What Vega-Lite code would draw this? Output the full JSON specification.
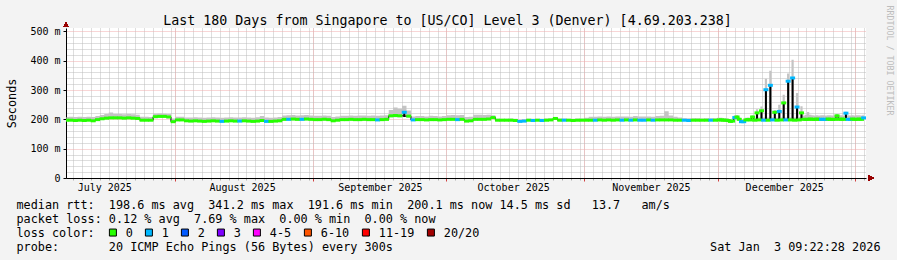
{
"$schema":"https://vega.github.io/schema/vega-lite/v6.json",
"width":800,"height":150,
"autosize":{"type":"none"},
"padding":{"left":66,"top":28,"right":31,"bottom":82},
"background":"#f3f3f3",
"config":{"view":{"fill":"#ffffff","stroke":null},
 "axis":{"labelFont":"DejaVu Sans Mono","titleFont":"DejaVu Sans Mono","labelColor":"#000000","titleColor":"#000000","titleFontWeight":"normal","domainColor":"#000000"}},
"data":{"values":[
{"t":"2025-07-07T12:00Z","m":197,"lo":194,"hi":208,"s":"0"},
{"t":"2025-07-08T12:00Z","m":197,"lo":194,"hi":209,"s":"0"},
{"t":"2025-07-09T12:00Z","m":196,"lo":193,"hi":208,"s":"0"},
{"t":"2025-07-10T12:00Z","m":197,"lo":194,"hi":209,"s":"0"},
{"t":"2025-07-11T12:00Z","m":196,"lo":193,"hi":208,"s":"0"},
{"t":"2025-07-12T12:00Z","m":197,"lo":194,"hi":209,"s":"0"},
{"t":"2025-07-13T12:00Z","m":195,"lo":193,"hi":208,"s":"0"},
{"t":"2025-07-14T12:00Z","m":199,"lo":195,"hi":211,"s":"0"},
{"t":"2025-07-15T12:00Z","m":202,"lo":198,"hi":215,"s":"0"},
{"t":"2025-07-16T12:00Z","m":204,"lo":200,"hi":218,"s":"0"},
{"t":"2025-07-17T12:00Z","m":205,"lo":201,"hi":223,"s":"0"},
{"t":"2025-07-18T12:00Z","m":205,"lo":201,"hi":218,"s":"0"},
{"t":"2025-07-19T12:00Z","m":205,"lo":201,"hi":218,"s":"0"},
{"t":"2025-07-20T12:00Z","m":204,"lo":200,"hi":217,"s":"0"},
{"t":"2025-07-21T12:00Z","m":205,"lo":201,"hi":218,"s":"0"},
{"t":"2025-07-22T12:00Z","m":204,"lo":200,"hi":217,"s":"0"},
{"t":"2025-07-23T12:00Z","m":203,"lo":199,"hi":216,"s":"0"},
{"t":"2025-07-24T12:00Z","m":197,"lo":194,"hi":209,"s":"0"},
{"t":"2025-07-25T12:00Z","m":197,"lo":194,"hi":209,"s":"0"},
{"t":"2025-07-26T12:00Z","m":197,"lo":194,"hi":208,"s":"0"},
{"t":"2025-07-27T12:00Z","m":209,"lo":205,"hi":219,"s":"0"},
{"t":"2025-07-28T12:00Z","m":210,"lo":206,"hi":220,"s":"0"},
{"t":"2025-07-29T12:00Z","m":210,"lo":206,"hi":219,"s":"0"},
{"t":"2025-07-30T12:00Z","m":208,"lo":204,"hi":218,"s":"0"},
{"t":"2025-07-31T12:00Z","m":192,"lo":190,"hi":203,"s":"0"},
{"t":"2025-08-01T12:00Z","m":198,"lo":195,"hi":209,"s":"0"},
{"t":"2025-08-02T12:00Z","m":198,"lo":195,"hi":209,"s":"0"},
{"t":"2025-08-03T12:00Z","m":195,"lo":192,"hi":206,"s":"0"},
{"t":"2025-08-04T12:00Z","m":194,"lo":192,"hi":206,"s":"0"},
{"t":"2025-08-05T12:00Z","m":195,"lo":192,"hi":207,"s":"0"},
{"t":"2025-08-06T12:00Z","m":194,"lo":192,"hi":206,"s":"0"},
{"t":"2025-08-07T12:00Z","m":193,"lo":191,"hi":205,"s":"0"},
{"t":"2025-08-08T12:00Z","m":194,"lo":192,"hi":206,"s":"0"},
{"t":"2025-08-09T12:00Z","m":195,"lo":192,"hi":207,"s":"0"},
{"t":"2025-08-10T12:00Z","m":194,"lo":192,"hi":206,"s":"0"},
{"t":"2025-08-11T12:00Z","m":193,"lo":191,"hi":205,"s":"1"},
{"t":"2025-08-12T12:00Z","m":194,"lo":192,"hi":206,"s":"0"},
{"t":"2025-08-13T12:00Z","m":195,"lo":192,"hi":207,"s":"0"},
{"t":"2025-08-14T12:00Z","m":194,"lo":192,"hi":206,"s":"0"},
{"t":"2025-08-15T12:00Z","m":194,"lo":191,"hi":206,"s":"1"},
{"t":"2025-08-16T12:00Z","m":195,"lo":192,"hi":207,"s":"0"},
{"t":"2025-08-17T12:00Z","m":194,"lo":192,"hi":206,"s":"0"},
{"t":"2025-08-18T12:00Z","m":193,"lo":191,"hi":205,"s":"0"},
{"t":"2025-08-19T12:00Z","m":194,"lo":192,"hi":207,"s":"0"},
{"t":"2025-08-20T12:00Z","m":196,"lo":193,"hi":211,"s":"0"},
{"t":"2025-08-21T12:00Z","m":193,"lo":191,"hi":206,"s":"1"},
{"t":"2025-08-22T12:00Z","m":193,"lo":191,"hi":205,"s":"0"},
{"t":"2025-08-23T12:00Z","m":194,"lo":192,"hi":206,"s":"0"},
{"t":"2025-08-24T12:00Z","m":195,"lo":192,"hi":208,"s":"0"},
{"t":"2025-08-25T12:00Z","m":200,"lo":196,"hi":213,"s":"0"},
{"t":"2025-08-26T12:00Z","m":200,"lo":196,"hi":214,"s":"1"},
{"t":"2025-08-27T12:00Z","m":201,"lo":197,"hi":215,"s":"0"},
{"t":"2025-08-28T12:00Z","m":200,"lo":196,"hi":213,"s":"0"},
{"t":"2025-08-29T12:00Z","m":200,"lo":196,"hi":214,"s":"1"},
{"t":"2025-08-30T12:00Z","m":201,"lo":197,"hi":215,"s":"0"},
{"t":"2025-08-31T12:00Z","m":200,"lo":196,"hi":213,"s":"0"},
{"t":"2025-09-01T12:00Z","m":199,"lo":196,"hi":212,"s":"0"},
{"t":"2025-09-02T12:00Z","m":199,"lo":196,"hi":212,"s":"0"},
{"t":"2025-09-03T12:00Z","m":200,"lo":196,"hi":213,"s":"0"},
{"t":"2025-09-04T12:00Z","m":199,"lo":196,"hi":212,"s":"0"},
{"t":"2025-09-05T12:00Z","m":195,"lo":192,"hi":208,"s":"0"},
{"t":"2025-09-06T12:00Z","m":197,"lo":194,"hi":210,"s":"0"},
{"t":"2025-09-07T12:00Z","m":199,"lo":196,"hi":212,"s":"0"},
{"t":"2025-09-08T12:00Z","m":199,"lo":196,"hi":212,"s":"0"},
{"t":"2025-09-09T12:00Z","m":200,"lo":196,"hi":213,"s":"0"},
{"t":"2025-09-10T12:00Z","m":199,"lo":196,"hi":212,"s":"0"},
{"t":"2025-09-11T12:00Z","m":199,"lo":196,"hi":213,"s":"0"},
{"t":"2025-09-12T12:00Z","m":200,"lo":196,"hi":213,"s":"0"},
{"t":"2025-09-13T12:00Z","m":199,"lo":196,"hi":212,"s":"0"},
{"t":"2025-09-14T12:00Z","m":199,"lo":196,"hi":213,"s":"0"},
{"t":"2025-09-15T12:00Z","m":198,"lo":195,"hi":212,"s":"1"},
{"t":"2025-09-16T12:00Z","m":199,"lo":196,"hi":213,"s":"0"},
{"t":"2025-09-17T12:00Z","m":200,"lo":196,"hi":214,"s":"0"},
{"t":"2025-09-18T12:00Z","m":212,"lo":207,"hi":232,"s":"0"},
{"t":"2025-09-19T12:00Z","m":213,"lo":207,"hi":240,"s":"0"},
{"t":"2025-09-20T12:00Z","m":212,"lo":207,"hi":236,"s":"0"},
{"t":"2025-09-21T12:00Z","m":224,"lo":208,"hi":246,"s":"1"},
{"t":"2025-09-22T12:00Z","m":211,"lo":206,"hi":230,"s":"0"},
{"t":"2025-09-23T12:00Z","m":198,"lo":195,"hi":210,"s":"1"},
{"t":"2025-09-24T12:00Z","m":199,"lo":196,"hi":211,"s":"0"},
{"t":"2025-09-25T12:00Z","m":199,"lo":196,"hi":211,"s":"0"},
{"t":"2025-09-26T12:00Z","m":198,"lo":195,"hi":210,"s":"0"},
{"t":"2025-09-27T12:00Z","m":199,"lo":196,"hi":212,"s":"0"},
{"t":"2025-09-28T12:00Z","m":199,"lo":196,"hi":211,"s":"0"},
{"t":"2025-09-29T12:00Z","m":198,"lo":195,"hi":210,"s":"0"},
{"t":"2025-09-30T12:00Z","m":199,"lo":196,"hi":211,"s":"0"},
{"t":"2025-10-01T12:00Z","m":200,"lo":197,"hi":214,"s":"0"},
{"t":"2025-10-02T12:00Z","m":200,"lo":197,"hi":215,"s":"0"},
{"t":"2025-10-03T12:00Z","m":199,"lo":196,"hi":214,"s":"1"},
{"t":"2025-10-04T12:00Z","m":200,"lo":197,"hi":215,"s":"0"},
{"t":"2025-10-05T12:00Z","m":194,"lo":192,"hi":208,"s":"0"},
{"t":"2025-10-06T12:00Z","m":195,"lo":192,"hi":209,"s":"0"},
{"t":"2025-10-07T12:00Z","m":200,"lo":197,"hi":216,"s":"0"},
{"t":"2025-10-08T12:00Z","m":200,"lo":197,"hi":216,"s":"0"},
{"t":"2025-10-09T12:00Z","m":200,"lo":197,"hi":215,"s":"0"},
{"t":"2025-10-10T12:00Z","m":201,"lo":198,"hi":216,"s":"0"},
{"t":"2025-10-11T12:00Z","m":206,"lo":201,"hi":214,"s":"0"},
{"t":"2025-10-12T12:00Z","m":197,"lo":195,"hi":202,"s":"0"},
{"t":"2025-10-13T12:00Z","m":197,"lo":195,"hi":202,"s":"0"},
{"t":"2025-10-14T12:00Z","m":197,"lo":195,"hi":202,"s":"0"},
{"t":"2025-10-15T12:00Z","m":197,"lo":195,"hi":203,"s":"0"},
{"t":"2025-10-16T12:00Z","m":196,"lo":194,"hi":202,"s":"0"},
{"t":"2025-10-17T12:00Z","m":193,"lo":191,"hi":199,"s":"1"},
{"t":"2025-10-18T12:00Z","m":194,"lo":192,"hi":200,"s":"1"},
{"t":"2025-10-19T12:00Z","m":197,"lo":195,"hi":202,"s":"0"},
{"t":"2025-10-20T12:00Z","m":196,"lo":194,"hi":202,"s":"1"},
{"t":"2025-10-21T12:00Z","m":197,"lo":195,"hi":202,"s":"0"},
{"t":"2025-10-22T12:00Z","m":196,"lo":194,"hi":202,"s":"1"},
{"t":"2025-10-23T12:00Z","m":197,"lo":195,"hi":203,"s":"0"},
{"t":"2025-10-24T12:00Z","m":198,"lo":195,"hi":203,"s":"0"},
{"t":"2025-10-25T12:00Z","m":203,"lo":199,"hi":208,"s":"0"},
{"t":"2025-10-26T12:00Z","m":197,"lo":195,"hi":203,"s":"0"},
{"t":"2025-10-27T12:00Z","m":197,"lo":195,"hi":203,"s":"1"},
{"t":"2025-10-28T12:00Z","m":197,"lo":195,"hi":202,"s":"0"},
{"t":"2025-10-29T12:00Z","m":196,"lo":194,"hi":202,"s":"0"},
{"t":"2025-10-30T12:00Z","m":197,"lo":195,"hi":203,"s":"0"},
{"t":"2025-10-31T12:00Z","m":197,"lo":195,"hi":203,"s":"0"},
{"t":"2025-11-01T12:00Z","m":197,"lo":195,"hi":205,"s":"0"},
{"t":"2025-11-02T12:00Z","m":197,"lo":195,"hi":209,"s":"0"},
{"t":"2025-11-03T12:00Z","m":197,"lo":195,"hi":209,"s":"1"},
{"t":"2025-11-04T12:00Z","m":198,"lo":195,"hi":210,"s":"0"},
{"t":"2025-11-05T12:00Z","m":197,"lo":195,"hi":209,"s":"0"},
{"t":"2025-11-06T12:00Z","m":198,"lo":195,"hi":210,"s":"0"},
{"t":"2025-11-07T12:00Z","m":197,"lo":195,"hi":209,"s":"0"},
{"t":"2025-11-08T12:00Z","m":198,"lo":195,"hi":210,"s":"0"},
{"t":"2025-11-09T12:00Z","m":197,"lo":195,"hi":210,"s":"1"},
{"t":"2025-11-10T12:00Z","m":198,"lo":195,"hi":210,"s":"0"},
{"t":"2025-11-11T12:00Z","m":197,"lo":195,"hi":209,"s":"1"},
{"t":"2025-11-12T12:00Z","m":198,"lo":195,"hi":211,"s":"0"},
{"t":"2025-11-13T12:00Z","m":197,"lo":195,"hi":210,"s":"1"},
{"t":"2025-11-14T12:00Z","m":197,"lo":195,"hi":210,"s":"1"},
{"t":"2025-11-15T12:00Z","m":198,"lo":195,"hi":210,"s":"0"},
{"t":"2025-11-16T12:00Z","m":197,"lo":195,"hi":209,"s":"1"},
{"t":"2025-11-17T12:00Z","m":198,"lo":195,"hi":211,"s":"0"},
{"t":"2025-11-18T12:00Z","m":198,"lo":195,"hi":212,"s":"0"},
{"t":"2025-11-19T12:00Z","m":198,"lo":195,"hi":228,"s":"0"},
{"t":"2025-11-20T12:00Z","m":198,"lo":195,"hi":213,"s":"0"},
{"t":"2025-11-21T12:00Z","m":197,"lo":195,"hi":209,"s":"0"},
{"t":"2025-11-22T12:00Z","m":197,"lo":195,"hi":206,"s":"0"},
{"t":"2025-11-23T12:00Z","m":197,"lo":195,"hi":204,"s":"1"},
{"t":"2025-11-24T12:00Z","m":196,"lo":194,"hi":204,"s":"1"},
{"t":"2025-11-25T12:00Z","m":197,"lo":195,"hi":204,"s":"0"},
{"t":"2025-11-26T12:00Z","m":197,"lo":195,"hi":204,"s":"0"},
{"t":"2025-11-27T12:00Z","m":197,"lo":195,"hi":203,"s":"0"},
{"t":"2025-11-28T12:00Z","m":197,"lo":195,"hi":204,"s":"0"},
{"t":"2025-11-29T12:00Z","m":197,"lo":195,"hi":204,"s":"1"},
{"t":"2025-11-30T12:00Z","m":197,"lo":195,"hi":204,"s":"0"},
{"t":"2025-12-01T09:00Z","m":198,"lo":195,"hi":205,"s":"0"},
{"t":"2025-12-01T21:00Z","m":198,"lo":195,"hi":205,"s":"0"},
{"t":"2025-12-02T09:00Z","m":197,"lo":195,"hi":204,"s":"0"},
{"t":"2025-12-02T21:00Z","m":197,"lo":195,"hi":204,"s":"0"},
{"t":"2025-12-03T09:00Z","m":196,"lo":194,"hi":203,"s":"0"},
{"t":"2025-12-03T21:00Z","m":193,"lo":191,"hi":201,"s":"0"},
{"t":"2025-12-04T09:00Z","m":194,"lo":192,"hi":203,"s":"0"},
{"t":"2025-12-04T21:00Z","m":206,"lo":198,"hi":213,"s":"1"},
{"t":"2025-12-05T09:00Z","m":208,"lo":200,"hi":215,"s":"0"},
{"t":"2025-12-05T21:00Z","m":200,"lo":196,"hi":207,"s":"0"},
{"t":"2025-12-06T09:00Z","m":192,"lo":190,"hi":200,"s":"1"},
{"t":"2025-12-06T21:00Z","m":192,"lo":190,"hi":200,"s":"1"},
{"t":"2025-12-07T09:00Z","m":198,"lo":195,"hi":205,"s":"0"},
{"t":"2025-12-07T21:00Z","m":199,"lo":196,"hi":206,"s":"0"},
{"t":"2025-12-08T09:00Z","m":198,"lo":195,"hi":205,"s":"0"},
{"t":"2025-12-08T21:00Z","m":208,"lo":197,"hi":214,"s":"0"},
{"t":"2025-12-09T09:00Z","m":197,"lo":195,"hi":205,"s":"0"},
{"t":"2025-12-09T21:00Z","m":222,"lo":198,"hi":234,"s":"0"},
{"t":"2025-12-10T09:00Z","m":198,"lo":195,"hi":206,"s":"0"},
{"t":"2025-12-10T21:00Z","m":229,"lo":198,"hi":244,"s":"0"},
{"t":"2025-12-11T09:00Z","m":197,"lo":195,"hi":206,"s":"1"},
{"t":"2025-12-11T21:00Z","m":301,"lo":198,"hi":338,"s":"1"},
{"t":"2025-12-12T09:00Z","m":197,"lo":195,"hi":206,"s":"0"},
{"t":"2025-12-12T21:00Z","m":316,"lo":198,"hi":366,"s":"1"},
{"t":"2025-12-13T09:00Z","m":198,"lo":195,"hi":206,"s":"1"},
{"t":"2025-12-13T21:00Z","m":224,"lo":198,"hi":232,"s":"0"},
{"t":"2025-12-14T09:00Z","m":197,"lo":195,"hi":205,"s":"0"},
{"t":"2025-12-14T21:00Z","m":227,"lo":198,"hi":250,"s":"1"},
{"t":"2025-12-15T09:00Z","m":198,"lo":195,"hi":206,"s":"0"},
{"t":"2025-12-15T21:00Z","m":256,"lo":198,"hi":284,"s":"0"},
{"t":"2025-12-16T09:00Z","m":198,"lo":195,"hi":206,"s":"1"},
{"t":"2025-12-16T21:00Z","m":330,"lo":198,"hi":356,"s":"1"},
{"t":"2025-12-17T09:00Z","m":198,"lo":195,"hi":206,"s":"0"},
{"t":"2025-12-17T21:00Z","m":341,"lo":198,"hi":403,"s":"1"},
{"t":"2025-12-18T09:00Z","m":197,"lo":195,"hi":206,"s":"0"},
{"t":"2025-12-18T21:00Z","m":242,"lo":198,"hi":290,"s":"1"},
{"t":"2025-12-19T09:00Z","m":198,"lo":195,"hi":207,"s":"0"},
{"t":"2025-12-19T21:00Z","m":222,"lo":198,"hi":245,"s":"0"},
{"t":"2025-12-20T09:00Z","m":200,"lo":196,"hi":213,"s":"0"},
{"t":"2025-12-20T21:00Z","m":200,"lo":196,"hi":216,"s":"0"},
{"t":"2025-12-21T09:00Z","m":200,"lo":196,"hi":225,"s":"0"},
{"t":"2025-12-21T21:00Z","m":201,"lo":196,"hi":216,"s":"0"},
{"t":"2025-12-22T09:00Z","m":200,"lo":196,"hi":214,"s":"0"},
{"t":"2025-12-22T21:00Z","m":200,"lo":196,"hi":213,"s":"0"},
{"t":"2025-12-23T09:00Z","m":201,"lo":196,"hi":214,"s":"0"},
{"t":"2025-12-23T21:00Z","m":200,"lo":196,"hi":213,"s":"0"},
{"t":"2025-12-24T09:00Z","m":200,"lo":196,"hi":214,"s":"1"},
{"t":"2025-12-24T21:00Z","m":200,"lo":196,"hi":214,"s":"1"},
{"t":"2025-12-25T09:00Z","m":200,"lo":196,"hi":213,"s":"1"},
{"t":"2025-12-25T21:00Z","m":201,"lo":196,"hi":214,"s":"0"},
{"t":"2025-12-26T09:00Z","m":200,"lo":196,"hi":214,"s":"0"},
{"t":"2025-12-26T21:00Z","m":200,"lo":196,"hi":213,"s":"0"},
{"t":"2025-12-27T09:00Z","m":200,"lo":196,"hi":214,"s":"0"},
{"t":"2025-12-27T21:00Z","m":212,"lo":197,"hi":218,"s":"0"},
{"t":"2025-12-28T09:00Z","m":200,"lo":196,"hi":214,"s":"0"},
{"t":"2025-12-28T21:00Z","m":201,"lo":196,"hi":214,"s":"0"},
{"t":"2025-12-29T09:00Z","m":200,"lo":196,"hi":213,"s":"0"},
{"t":"2025-12-29T21:00Z","m":221,"lo":197,"hi":226,"s":"1"},
{"t":"2025-12-30T09:00Z","m":200,"lo":196,"hi":214,"s":"1"},
{"t":"2025-12-30T21:00Z","m":200,"lo":196,"hi":213,"s":"1"},
{"t":"2025-12-31T09:00Z","m":201,"lo":196,"hi":214,"s":"0"},
{"t":"2025-12-31T21:00Z","m":200,"lo":196,"hi":213,"s":"0"},
{"t":"2026-01-01T09:00Z","m":200,"lo":196,"hi":214,"s":"0"},
{"t":"2026-01-01T21:00Z","m":201,"lo":196,"hi":214,"s":"0"},
{"t":"2026-01-02T09:00Z","m":200,"lo":196,"hi":213,"s":"0"},
{"t":"2026-01-02T21:00Z","m":205,"lo":197,"hi":216,"s":"1"}
]},
"layer":[
{"mark":{"type":"area","interpolate":"step","color":"#c4c4c4","opacity":1,"clip":true},
 "encoding":{
  "x":{"field":"t","type":"temporal",
   "scale":{"type":"utc","domain":[{"year":2025,"month":7,"date":7,"hours":9,"minutes":22,"seconds":28,"utc":true},{"year":2026,"month":1,"date":3,"hours":9,"minutes":22,"seconds":28,"utc":true}]},
   "axis":{"orient":"bottom","tickCount":{"interval":"day","step":2},"grid":true,"gridColor":"#bdbdbd","gridDash":[1,1],"ticks":true,"tickColor":"#b0b0b0","tickSize":2,"labels":false,"domain":false,
    "title":["loss color:","probe:\u00a0\u00a0\u00a0\u00a0\u00a0\u00a0\u00a020 ICMP Echo Pings (56 Bytes) every 300s"],
    "titleX":-50,"titleY":58.5,"titleAlign":"left","titleBaseline":"alphabetic","titleFontSize":11.8,"titleLineHeight":14}},
  "y":{"field":"lo","type":"quantitative","scale":{"domain":[0,511.4],"nice":false,"zero":false},
   "axis":{"orient":"left","values":[20,40,60,80,120,140,160,180,220,240,260,280,320,340,360,380,420,440,460,480],"grid":true,"gridColor":"#bdbdbd","gridDash":[1,1],"ticks":false,"labels":false,"domain":false,"title":null}},
  "y2":{"field":"hi"}
 }},
{"transform":[{"filter":"datum.m <= 215"}],
 "mark":{"type":"line","interpolate":"step","color":"#000000","strokeWidth":1,"opacity":1,"clip":true},
 "encoding":{
  "x":{"field":"t","type":"temporal",
   "scale":{"type":"utc","domain":[{"year":2025,"month":7,"date":7,"hours":9,"minutes":22,"seconds":28,"utc":true},{"year":2026,"month":1,"date":3,"hours":9,"minutes":22,"seconds":28,"utc":true}]},
   "axis":{"orient":"bottom","values":[{"year":2025,"month":8,"date":1,"utc":true},{"year":2025,"month":9,"date":1,"utc":true},{"year":2025,"month":10,"date":1,"utc":true},{"year":2025,"month":11,"date":1,"utc":true},{"year":2025,"month":12,"date":1,"utc":true},{"year":2026,"month":1,"date":1,"utc":true}],
    "grid":true,"gridColor":"#f0acac","gridDash":[1,1],"ticks":true,"tickColor":"#d04040","tickSize":3,"labels":false,"domain":true,
    "title":["median rtt:\u00a0\u00a0198.6 ms avg\u00a0\u00a0341.2 ms max\u00a0\u00a0191.6 ms min\u00a0\u00a0200.1 ms now 14.5 ms sd\u00a0\u00a0\u00a013.7\u00a0\u00a0\u00a0am/s","packet loss: 0.12 % avg\u00a0\u00a07.69 % max\u00a0\u00a00.00 % min\u00a0\u00a00.00 % now"],
    "titleX":-50,"titleY":30.5,"titleAlign":"left","titleBaseline":"alphabetic","titleFontSize":11.8,"titleLineHeight":14}},
  "y":{"field":"m","type":"quantitative","scale":{"domain":[0,511.4],"nice":false,"zero":false},
   "axis":{"orient":"left","values":[0,100,200,300,400,500],"grid":true,"gridColor":"#f0acac","gridDash":[1,1],"tickColor":"#000000","tickSize":3,
    "labelExpr":"datum.value === 0 ? '0' : datum.value + ' m'","labelFontSize":10,"labelPadding":3,"domain":true,
    "title":"Seconds","titleX":-55,"titleY":75,"titleAngle":-90,"titleAlign":"center","titleBaseline":"middle","titleFontSize":11.8}}
 }},
{"transform":[{"filter":"datum.m > 215"}],
 "mark":{"type":"rule","color":"#000000","strokeWidth":2,"opacity":1,"clip":true},
 "encoding":{
  "x":{"field":"t","type":"temporal",
   "scale":{"type":"utc","domain":[{"year":2025,"month":7,"date":7,"hours":9,"minutes":22,"seconds":28,"utc":true},{"year":2026,"month":1,"date":3,"hours":9,"minutes":22,"seconds":28,"utc":true}]},"axis":null},
  "y":{"field":"lo","type":"quantitative","scale":{"domain":[0,511.4],"nice":false,"zero":false},"axis":null},
  "y2":{"field":"m"}
 }},
{"mark":{"type":"tick","orient":"horizontal","size":5,"thickness":3,"opacity":1,"clip":true},
 "encoding":{
  "x":{"field":"t","type":"temporal",
   "scale":{"type":"utc","domain":[{"year":2025,"month":7,"date":7,"hours":9,"minutes":22,"seconds":28,"utc":true},{"year":2026,"month":1,"date":3,"hours":9,"minutes":22,"seconds":28,"utc":true}]},
   "axis":{"orient":"bottom","values":[{"year":2025,"month":7,"date":16,"utc":true},{"year":2025,"month":8,"date":16,"utc":true},{"year":2025,"month":9,"date":16,"utc":true},{"year":2025,"month":10,"date":16,"utc":true},{"year":2025,"month":11,"date":16,"utc":true},{"year":2025,"month":12,"date":16,"utc":true}],
    "format":"%B %Y","grid":false,"ticks":false,"domain":false,"labelFontSize":10,"labelPadding":4,"labelFlush":false,"labelOverlap":false,
    "title":"Sat Jan\u00a0\u00a03 09:22:28 2026","titleX":814,"titleY":72.5,"titleAlign":"right","titleBaseline":"alphabetic","titleFontSize":11.8}},
  "y":{"field":"m","type":"quantitative","scale":{"domain":[0,511.4],"nice":false,"zero":false},
   "axis":{"orient":"right","labels":false,"ticks":false,"domain":false,"grid":false,
    "title":"RRDTOOL / TOBI OETIKER","titleX":22,"titleY":32,"titleAngle":90,"titleAlign":"center","titleBaseline":"middle","titleFontSize":8.3,"titleColor":"#bdbdbd"}},
  "color":{"field":"s","type":"nominal",
   "scale":{"domain":["0","1","2","3","4-5","6-10","11-19","20/20"],"range":["#26ff00","#00b8ff","#0059ff","#7e00ff","#ff00ff","#ff5500","#ff0000","#a10000"]},
   "legend":{"orient":"none","legendX":41,"legendY":198.5,"direction":"horizontal","columns":8,"title":null,
    "labelFont":"DejaVu Sans Mono","labelFontSize":11.8,"labelColor":"#000000","labelOffset":7,"columnPadding":10,
    "symbolType":"square","symbolSize":49,"symbolStrokeColor":"#000000","symbolStrokeWidth":1,"symbolOpacity":1,"padding":0}}
 }},
{"mark":{"type":"point","shape":"triangle-up","filled":true,"color":"#990000","size":28,"opacity":1},
 "encoding":{
  "x":{"datum":{"year":2025,"month":7,"date":7,"hours":9,"minutes":22,"seconds":28,"utc":true},"type":"temporal",
   "scale":{"type":"utc","domain":[{"year":2025,"month":7,"date":7,"hours":9,"minutes":22,"seconds":28,"utc":true},{"year":2026,"month":1,"date":3,"hours":9,"minutes":22,"seconds":28,"utc":true}]},
   "axis":{"orient":"top","labels":false,"ticks":false,"domain":false,"grid":false,
    "title":"Last 180 Days from Singapore to [US/CO] Level 3 (Denver) [4.69.203.238]","titleX":381,"titleY":-4,"titleAlign":"center","titleBaseline":"alphabetic","titleFontSize":13.3}},
  "y":{"datum":522.6,"type":"quantitative","scale":{"domain":[0,511.4],"nice":false,"zero":false},"axis":null}
 }},
{"mark":{"type":"point","shape":"triangle-right","filled":true,"color":"#990000","size":28,"opacity":1},
 "encoding":{
  "x":{"datum":{"year":2026,"month":1,"date":4,"hours":12,"minutes":24,"utc":true},"type":"temporal",
   "scale":{"type":"utc","domain":[{"year":2025,"month":7,"date":7,"hours":9,"minutes":22,"seconds":28,"utc":true},{"year":2026,"month":1,"date":3,"hours":9,"minutes":22,"seconds":28,"utc":true}]},"axis":null},
  "y":{"datum":0,"type":"quantitative","scale":{"domain":[0,511.4],"nice":false,"zero":false},"axis":null}
 }}
],
"resolve":{"axis":{"x":"independent","y":"independent"}}
}
